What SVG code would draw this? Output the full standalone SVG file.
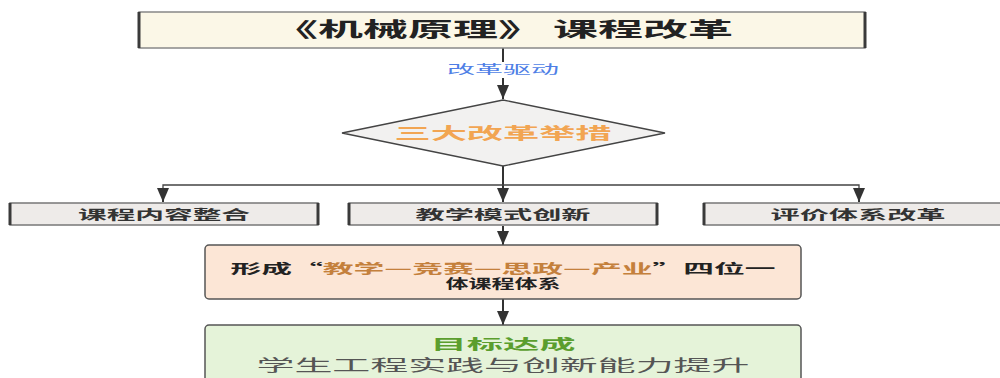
<svg xmlns="http://www.w3.org/2000/svg" width="1000" height="378" viewBox="0 0 1000 378">
<style>
text{font-family:"Noto Sans CJK SC","Noto Sans",sans-serif;text-anchor:middle;}
.edge{stroke:#333;stroke-width:2;fill:none;}
.thin{stroke:#444;stroke-width:1.3;fill:none;}
.side{stroke:#3a3a3a;stroke-width:3;}
.gbox{fill:#eeebe9;stroke:#777;stroke-width:1.5;}
.gt{font-size:13px;font-weight:bold;fill:#333;}
</style>
<defs>
<marker id="ah" markerUnits="userSpaceOnUse" markerWidth="14" markerHeight="12" refX="14" refY="6" orient="auto">
<path d="M0,0 L14,6 L0,12 Z" fill="#333"/>
</marker>
</defs>
<rect width="1000" height="378" fill="#fff"/>

<g id="connectors">
<line class="edge" x1="503" y1="48" x2="503" y2="99" marker-end="url(#ah)"/>
<line class="edge" x1="503" y1="166" x2="503" y2="202" marker-end="url(#ah)"/>
<polyline class="thin" points="163,202 163,185 859,185 859,202"/>
<line class="edge" x1="163" y1="190" x2="163" y2="202" marker-end="url(#ah)"/>
<line class="edge" x1="859" y1="190" x2="859" y2="202" marker-end="url(#ah)"/>
<line class="edge" x1="503" y1="226" x2="503" y2="245" marker-end="url(#ah)"/>
<line class="edge" x1="503" y1="299" x2="503" y2="325" marker-end="url(#ah)"/>
<rect x="444" y="62" width="118" height="16" fill="#fff"/>
<text x="503" y="74" font-size="12" fill="#4f7fe6" textLength="112" lengthAdjust="spacingAndGlyphs">改革驱动</text>
</g>

<g id="title">
<rect x="139" y="12" width="726" height="36" fill="#fbf7e7" stroke="#888" stroke-width="1.5"/>
<line class="side" x1="139" y1="12" x2="139" y2="48"/>
<line class="side" x1="865" y1="12" x2="865" y2="48"/>
<text x="503" y="37" font-size="20" font-weight="bold" fill="#222" textLength="460" lengthAdjust="spacingAndGlyphs">《机械原理》 课程改革</text>
</g>

<g id="measures">
<polygon points="342,133 503,100 665,133 503,166" fill="#f2f1f0" stroke="#444" stroke-width="1.3"/>
<text x="503" y="139" font-size="16" font-weight="bold" fill="#f2a552" textLength="217" lengthAdjust="spacingAndGlyphs">三大改革举措</text>
</g>

<g id="content">
<rect class="gbox" x="10" y="203" width="308" height="22"/>
<line class="side" x1="10" y1="203" x2="10" y2="225"/>
<line class="side" x1="318" y1="203" x2="318" y2="225"/>
<text class="gt" x="164" y="219" textLength="172" lengthAdjust="spacingAndGlyphs">课程内容整合</text>
</g>

<g id="teaching">
<rect class="gbox" x="349" y="203" width="308" height="22"/>
<line class="side" x1="349" y1="203" x2="349" y2="225"/>
<line class="side" x1="657" y1="203" x2="657" y2="225"/>
<text class="gt" x="503" y="219" textLength="175" lengthAdjust="spacingAndGlyphs">教学模式创新</text>
</g>

<g id="evaluation">
<rect class="gbox" x="704" y="203" width="310" height="22"/>
<line class="side" x1="704" y1="203" x2="704" y2="225"/>
<text class="gt" x="858" y="219" textLength="175" lengthAdjust="spacingAndGlyphs">评价体系改革</text>
</g>

<g id="system">
<rect x="205" y="245" width="596" height="54" rx="4" fill="#fce6d6" stroke="#555" stroke-width="1.5"/>
<text x="503" y="273" font-size="13" font-weight="bold" fill="#222" textLength="545" lengthAdjust="spacingAndGlyphs">形成“<tspan fill="#c4803c">教学—竞赛—思政—产业</tspan>”四位一</text>
<text x="503" y="288" font-size="13" font-weight="bold" fill="#222" textLength="115" lengthAdjust="spacingAndGlyphs">体课程体系</text>
</g>

<g id="goal">
<rect x="205" y="325" width="596" height="70" rx="4" fill="#e5f3d9" stroke="#555" stroke-width="1.5"/>
<text x="503" y="349" font-size="14" font-weight="bold" fill="#5b9e2e" textLength="145" lengthAdjust="spacingAndGlyphs">目标达成</text>
<text x="503" y="371" font-size="16" fill="#555" textLength="493" lengthAdjust="spacingAndGlyphs">学生工程实践与创新能力提升</text>
</g>
</svg>
